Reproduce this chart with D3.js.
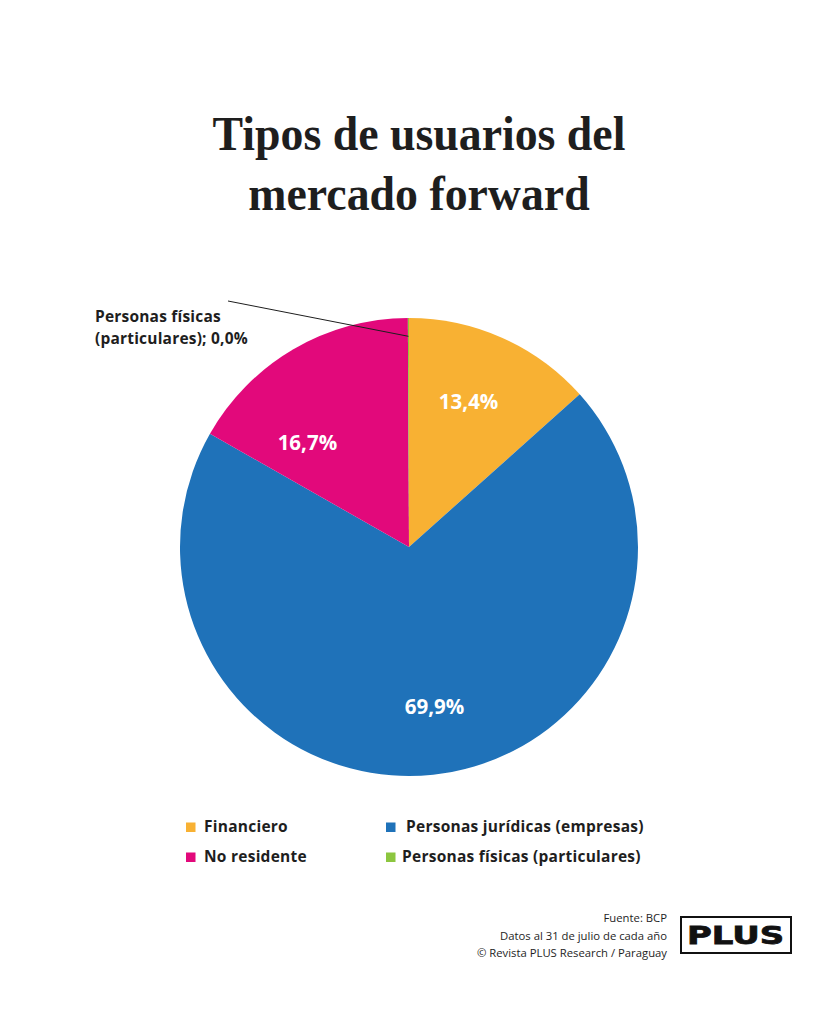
<!DOCTYPE html>
<html><head><meta charset="utf-8">
<script src="https://cdn.jsdelivr.net/npm/d3@7"></script>
<style>
html,body{margin:0;padding:0;background:#fff;}
svg{display:block;}
</style></head>
<body>
<svg id="chart" width="819" height="1024"></svg>
<script>
const categories = ["Financiero", "Personas jurídicas (empresas)", "No residente", "Personas físicas (particulares)"];
const values = [13.4, 69.9, 16.7, 0.08];
const valueLabels = ["13,4%", "69,9%", "16,7%", "0,0%"];
const colors = ["#F8B133", "#1F72B9", "#E2097B", "#8CC63F"];
const titleLines = ["Tipos de usuarios del", "mercado forward"];
const footerLines = ["Fuente: BCP", "Datos al 31 de julio de cada año", "© Revista PLUS Research / Paraguay"];

const svg = d3.select("#chart");
const W = 819;
const sans = "'Open Sans', 'Noto Sans', sans-serif";

// Title (slightly condensed display serif)
const tg = svg.append("g").attr("transform", `translate(${419},0) scale(0.935,1)`);
tg.selectAll("text.title").data(titleLines).join("text")
  .attr("class","title")
  .attr("x", 0).attr("y", (d,i)=>150 + i*60)
  .attr("text-anchor","middle")
  .attr("font-family","'Liberation Serif', 'DejaVu Serif', serif")
  .attr("font-weight","700").attr("font-size",49)
  .attr("fill","#1e1e1e")
  .text(d=>d);

// Pie
const cx = 409, cy = 547, R = 229;
const data = categories.map((c,i)=>({name:c, value:values[i], label:valueLabels[i], color:colors[i]}));
const pie = d3.pie().sort(null).value(d=>d.value);
const arcs = pie(data);
const arc = d3.arc().innerRadius(0).outerRadius(R);
const labelArc = d3.arc().innerRadius(R*0.68).outerRadius(R*0.68);
// small placement nudges relative to each slice's centroid
const labelNudge = [[-4,-3],[9,5],[-23,30]];
const g = svg.append("g").attr("transform",`translate(${cx},${cy})`);
g.selectAll("path").data(arcs).join("path")
  .attr("d", arc).attr("fill", d=>d.data.color);

g.selectAll("text.val").data(arcs.filter(d=>d.data.value>1)).join("text")
  .attr("class","val")
  .attr("transform", (d,i)=>{ const c = labelArc.centroid(d); return `translate(${c[0]+labelNudge[i][0]},${c[1]+labelNudge[i][1]})`; })
  .attr("text-anchor","middle").attr("dy","0.36em")
  .attr("font-family",sans).attr("font-weight","700").attr("font-size",20.5)
  .attr("fill","#fff").text(d=>d.data.label);

// Leader annotation for the tiny slice
const tiny = arcs[3];
const tinyAng = (tiny.startAngle + tiny.endAngle)/2;
const inner = [Math.sin(tinyAng)*R*0.92, -Math.cos(tinyAng)*R*0.92];
g.append("line")
  .attr("x1", 228-cx).attr("y1", 301-cy)
  .attr("x2", inner[0]).attr("y2", inner[1])
  .attr("stroke","#1e1e1e").attr("stroke-width",1);
const ann = svg.append("text")
  .attr("font-family",sans).attr("font-weight","700").attr("font-size",15.5).attr("fill","#1e1e1e")
  .attr("letter-spacing",0.2);
ann.append("tspan").attr("x",95).attr("y",322).text("Personas físicas");
ann.append("tspan").attr("x",95).attr("y",344).text("(particulares); " + tiny.data.label);

// Legend
const legPos = [[186,832],[386,832],[186,862],[386,862]];
const legTextGap = [18,20,18,16];
const leg = svg.append("g");
[0,1,2,3].forEach((idx,k)=>{
  const [x,y] = legPos[k];
  leg.append("rect").attr("x",x).attr("y",y-9.5).attr("width",9.5).attr("height",9.5).attr("fill",colors[idx]);
  leg.append("text").attr("x",x+legTextGap[k]).attr("y",y)
    .attr("font-family",sans).attr("font-weight","700").attr("font-size",15.5).attr("fill","#1e1e1e")
    .attr("letter-spacing",0.25)
    .text(categories[idx]);
});

// Footer
svg.selectAll("text.foot").data(footerLines).join("text")
  .attr("class","foot")
  .attr("x",667).attr("y",(d,i)=>922 + i*17.5)
  .attr("text-anchor","end")
  .attr("font-family",sans).attr("font-size",11.3).attr("fill","#1e1e1e")
  .text(d=>d);

svg.append("rect").attr("x",681).attr("y",917).attr("width",110).attr("height",36)
  .attr("fill","none").attr("stroke","#111").attr("stroke-width",2);
svg.append("text").attr("x",687).attr("y",944)
  .attr("font-family","'DejaVu Sans', sans-serif").attr("font-weight","700").attr("font-size",25)
  .attr("textLength",97).attr("lengthAdjust","spacingAndGlyphs")
  .attr("stroke","#111").attr("stroke-width",0.8)
  .attr("fill","#111").text("PLUS");
</script>
</body></html>
